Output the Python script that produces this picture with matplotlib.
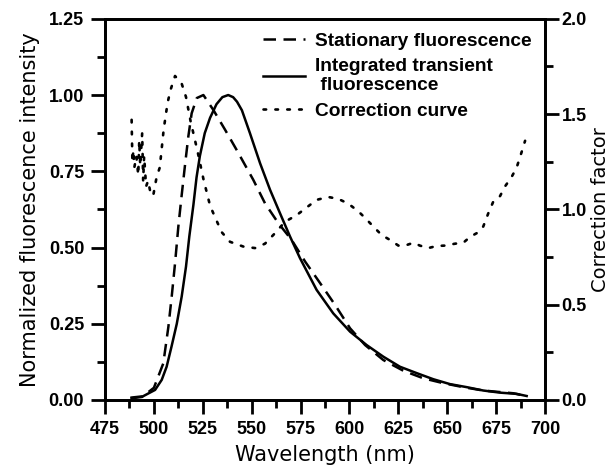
import matplotlib
matplotlib.use("Agg")
import matplotlib.pyplot as plt
from matplotlib.ticker import MultipleLocator, FormatStrFormatter

plt.rcParams["font.family"] = ["Liberation Sans", "DejaVu Sans"]
plt.rcParams["font.weight"] = "bold"

# Stationary fluorescence (dashed), left axis
wl_stat = [488, 494, 500, 504.8, 507.4, 509.1, 510.8, 512.5, 514, 516, 517.6, 519.3,
           521.9, 525.3, 530.4, 536.4, 542.3, 550.8, 556.8, 563.6, 570.4, 577.3,
           585, 592.6, 600.3, 608, 617.3, 627.5, 637.8, 648, 658.2, 668.4, 683.8, 690.6]
stat = [0.005, 0.01, 0.04, 0.12, 0.24, 0.339, 0.448, 0.569, 0.66, 0.776, 0.864, 0.94,
        0.99, 1.0, 0.951, 0.886, 0.82, 0.722, 0.645, 0.58, 0.525, 0.454,
        0.383, 0.312, 0.235, 0.18, 0.131, 0.096, 0.071, 0.055, 0.042, 0.031, 0.022, 0.012]

# Integrated transient fluorescence (solid), left axis
wl_trans = [488.6, 494.4, 500.6, 504, 506.5, 509, 511.7, 514.2, 516.4, 518.1, 520.2,
            521.8, 523.5, 526, 528.7, 532, 535, 538, 540.5, 542.5, 545, 549.1, 554.3,
            559.4, 564.5, 569.6, 574.7, 583.2, 591.7, 600.3, 608.8, 617.3, 625.8,
            634.4, 642.9, 651.4, 660, 668.4, 677, 685.5, 690.6]
trans = [0.008, 0.012, 0.033, 0.066, 0.109, 0.175, 0.25, 0.339, 0.437, 0.536, 0.64,
         0.73, 0.80, 0.875, 0.925, 0.97, 0.993, 1.0, 0.993, 0.978, 0.95, 0.875, 0.776,
         0.689, 0.612, 0.536, 0.465, 0.361, 0.284, 0.224, 0.18, 0.142, 0.109,
         0.088, 0.068, 0.052, 0.042, 0.031, 0.024, 0.02, 0.013]

# Correction curve (dotted), right axis
wl_corr = [488.6, 489, 489.5, 490, 491, 492, 492.5, 493, 494, 494.5, 495, 496, 497, 498,
           499.6, 501.4, 503, 505, 507, 508.6, 510.8, 514.2, 516.4, 518.8, 522.2, 525.3,
           528.7, 531.2, 534.7, 538.9, 545.7, 551.7, 556.8, 561.9, 567, 573, 578.1,
           583.2, 589.2, 594.3, 599.4, 604.5, 608, 612.2, 616.5, 620.7, 625, 628.4,
           632.7, 636, 640.3, 644.6, 648.8, 654, 658.2, 661.6, 665, 668.4, 671, 673.5,
           677, 679.5, 682.9, 685.5, 688, 689.8]
corr = [1.47, 1.25, 1.31, 1.22, 1.28, 1.18, 1.36, 1.23, 1.40, 1.15, 1.28, 1.12, 1.15, 1.10,
        1.07, 1.17, 1.22, 1.42, 1.56, 1.63, 1.70, 1.66, 1.59, 1.46, 1.31, 1.16,
        1.02, 0.96, 0.88, 0.83, 0.805, 0.797, 0.82, 0.875, 0.935, 0.97, 1.01,
        1.05, 1.065, 1.055, 1.03, 0.99, 0.955, 0.91, 0.865, 0.84, 0.81, 0.81,
        0.825, 0.81, 0.797, 0.808, 0.81, 0.82, 0.825, 0.855, 0.875, 0.91, 0.98, 1.04,
        1.07, 1.12, 1.17, 1.22, 1.30, 1.36]

fig = plt.figure(figsize=(6.12, 4.70), dpi=100)
ax = fig.add_axes([0.1716, 0.149, 0.719, 0.811])
ax2 = ax.twinx()

l1, = ax.plot(wl_stat, stat, color="black", lw=1.8, linestyle=(0, (5, 3)))
l2, = ax.plot(wl_trans, trans, color="black", lw=1.8)
l3, = ax2.plot(wl_corr, corr, color="black", lw=1.9, linestyle=(0, (1, 3.5)),
               dash_capstyle="round")

ax.set_xlim(475, 700)
ax.set_ylim(0, 1.25)
ax2.set_ylim(0, 2.0)
ax.xaxis.set_major_locator(MultipleLocator(25))
ax.xaxis.set_minor_locator(MultipleLocator(12.5))
ax.yaxis.set_major_locator(MultipleLocator(0.25))
ax.yaxis.set_minor_locator(MultipleLocator(0.125))
ax2.yaxis.set_major_locator(MultipleLocator(0.5))
ax2.yaxis.set_minor_locator(MultipleLocator(0.25))
ax.yaxis.set_major_formatter(FormatStrFormatter("%.2f"))
ax2.yaxis.set_major_formatter(FormatStrFormatter("%.1f"))

for a in (ax, ax2):
    for s in a.spines.values():
        s.set_linewidth(2.0)
    a.tick_params(which="major", length=10, width=2.0, labelsize=13, pad=5)
    a.tick_params(which="minor", length=5.5, width=2.0)
ax2.tick_params(which="major", pad=2)

lab = dict(fontsize=15, fontweight="normal", family="DejaVu Sans")
ax.set_xlabel("Wavelength (nm)", labelpad=5, **lab)
ax.set_ylabel("Normalized fluorescence intensity", labelpad=6, **lab)
ax2.set_ylabel("Correction factor", labelpad=3, fontsize=14, fontweight="normal",
               family="DejaVu Sans")

ax.legend([l1, l2, l3],
          ["Stationary fluorescence", "Integrated transient\n fluorescence",
           "Correction curve"],
          loc="upper right", frameon=False, fontsize=13.8, handlelength=2.2,
          handletextpad=0.5, labelspacing=0.42, borderaxespad=0.3)

fig.savefig("out.png", dpi=100)
